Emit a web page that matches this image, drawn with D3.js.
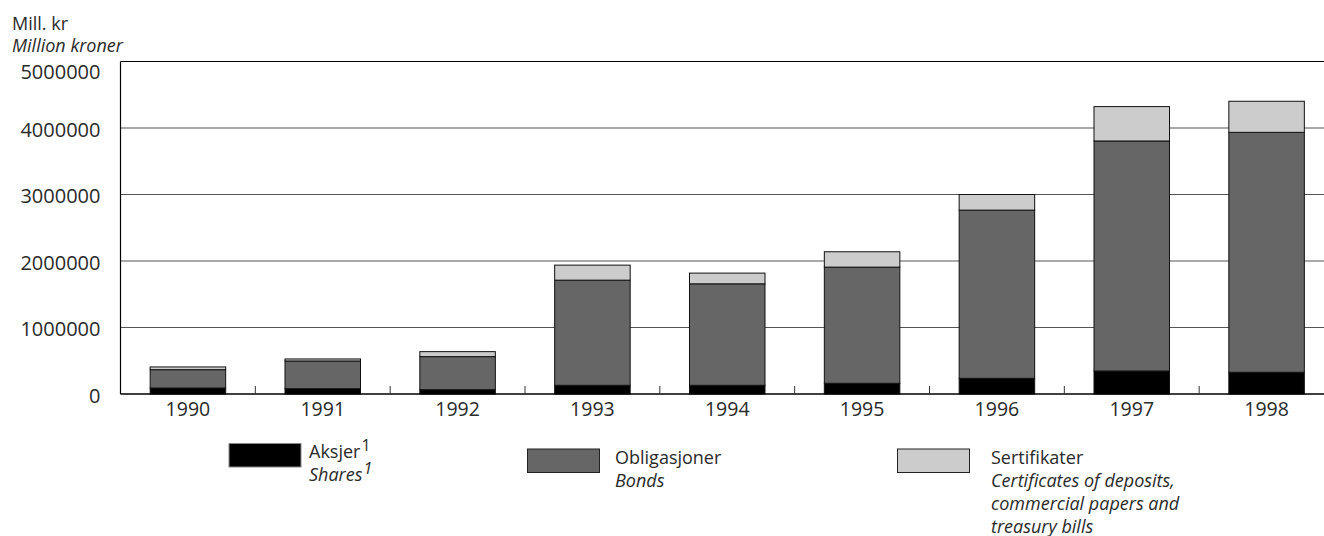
<!DOCTYPE html>
<html>
<head>
<meta charset="utf-8">
<script src="https://cdn.jsdelivr.net/npm/d3@7"></script>
<style>
  html, body { margin: 0; padding: 0; background: #fff; }
  svg { display: block; font-family: "Open Sans", "Noto Sans", sans-serif; }
</style>
</head>
<body>
<svg id="chart" width="1324" height="536"></svg>
<script>
const years = ["1990","1991","1992","1993","1994","1995","1996","1997","1998"];
const shares = [90000, 80000, 65000, 131000, 131000, 161000, 236000, 346000, 327000];
const bonds = [276000, 417000, 497000, 1581000, 1526000, 1747000, 2529000, 3459000, 3608000];
const certificates = [41000, 30000, 75000, 226000, 161000, 231000, 235000, 517000, 467000];
const yTicks = [0, 1000000, 2000000, 3000000, 4000000, 5000000];
const seriesKeys = ["shares", "bonds", "certificates"];
const seriesColors = ["#000000", "#666666", "#cccccc"];

const svg = d3.select("#chart");
const mLeft = 120.5, mRight = 1334, mTop = 61.5, mBottom = 394;

const x = d3.scaleBand().domain(years).range([mLeft, mRight]).paddingInner(0.44).paddingOuter(0.22);
const y = d3.scaleLinear().domain([0, 5000000]).range([mBottom, mTop]);

const rows = years.map((yr, i) => ({ year: yr, shares: shares[i], bonds: bonds[i], certificates: certificates[i] }));
const stacked = d3.stack().keys(seriesKeys)(rows);

// gridlines
svg.append("g").selectAll("line").data(yTicks.filter(t => t > 0 && t < 5000000)).join("line")
  .attr("x1", mLeft).attr("x2", 1324)
  .attr("y1", d => y(d)).attr("y2", d => y(d))
  .attr("stroke", "#555").attr("stroke-width", 1.2);

// frame: top and left
svg.append("line").attr("x1", mLeft).attr("x2", 1324).attr("y1", y(5000000)).attr("y2", y(5000000))
  .attr("stroke", "#000").attr("stroke-width", 1.2);
svg.append("line").attr("x1", mLeft).attr("x2", mLeft).attr("y1", y(5000000)).attr("y2", y(0))
  .attr("stroke", "#000").attr("stroke-width", 1.2);

// bars
svg.append("g").selectAll("g").data(stacked).join("g")
  .attr("fill", (d, i) => seriesColors[i])
  .selectAll("rect").data(d => d).join("rect")
  .attr("x", d => x(d.data.year))
  .attr("width", x.bandwidth())
  .attr("y", d => y(d[1]))
  .attr("height", d => y(d[0]) - y(d[1]))
  .attr("stroke", "#111").attr("stroke-width", 1);

// bottom axis line
svg.append("line").attr("x1", mLeft).attr("x2", 1324).attr("y1", y(0)).attr("y2", y(0))
  .attr("stroke", "#000").attr("stroke-width", 1.5);

// category boundary ticks (inward)
const step = x.step();
svg.append("g").selectAll("line").data(years.slice(0, -1)).join("line")
  .attr("x1", d => x(d) + x.bandwidth() + (step - x.bandwidth()) / 2)
  .attr("x2", d => x(d) + x.bandwidth() + (step - x.bandwidth()) / 2)
  .attr("y1", y(0)).attr("y2", y(0) - 8)
  .attr("stroke", "#333").attr("stroke-width", 1);

// x labels
const xAxis = svg.append("g").attr("transform", `translate(0,${y(0)})`)
  .call(d3.axisBottom(x).tickSize(0).tickPadding(8));
xAxis.select(".domain").remove();
xAxis.selectAll("text").attr("font-size", 19.5).attr("fill", "#2a2a2a")
  .attr("font-family", "'Open Sans', sans-serif");

// y labels
const yAxis = svg.append("g").attr("transform", `translate(${mLeft},0)`)
  .call(d3.axisLeft(y).tickValues(yTicks).tickFormat(d3.format("d")).tickSize(0).tickPadding(20));
yAxis.select(".domain").remove();
yAxis.selectAll("text").attr("font-size", 20).attr("fill", "#2a2a2a")
  .attr("font-family", "'Open Sans', sans-serif")
  .attr("dy", d => d === 5000000 ? "0.83em" : "0.42em");

// axis title
svg.append("text").attr("x", 12).attr("y", 30).attr("font-size", 18).attr("fill", "#2a2a2a").text("Mill. kr");
svg.append("text").attr("x", 12).attr("y", 52).attr("font-size", 18).attr("fill", "#2a2a2a")
  .attr("font-style", "italic").text("Million kroner");

// legend
const legend = [
  { sx: 229, sy: 443.5, tx: 309, ty: 458, lines: ["Aksjer", "Shares"], sup: true },
  { sx: 527.5, sy: 449, tx: 615, ty: 463.5, lines: ["Obligasjoner", "Bonds"], sup: false },
  { sx: 897.5, sy: 449, tx: 991, ty: 463.5, lines: ["Sertifikater", "Certificates of deposits,", "commercial papers and", "treasury bills"], sup: false }
];
legend.forEach((l, i) => {
  svg.append("rect").attr("x", l.sx).attr("y", l.sy).attr("width", 72).attr("height", 23.5)
    .attr("fill", seriesColors[i]).attr("stroke", i === 0 ? "#888" : "#222").attr("stroke-width", 1);
  l.lines.forEach((t, j) => {
    const txt = svg.append("text").attr("x", l.tx).attr("y", l.ty + j * 23)
      .attr("font-size", 18).attr("fill", "#2a2a2a")
      .attr("font-style", j === 0 ? "normal" : "italic").text(t);
    if (l.sup && j < 2) {
      txt.append("tspan").attr("font-size", 16).attr("dy", -7).attr("dx", 1).text("1");
    }
  });
});
</script>
</body>
</html>
